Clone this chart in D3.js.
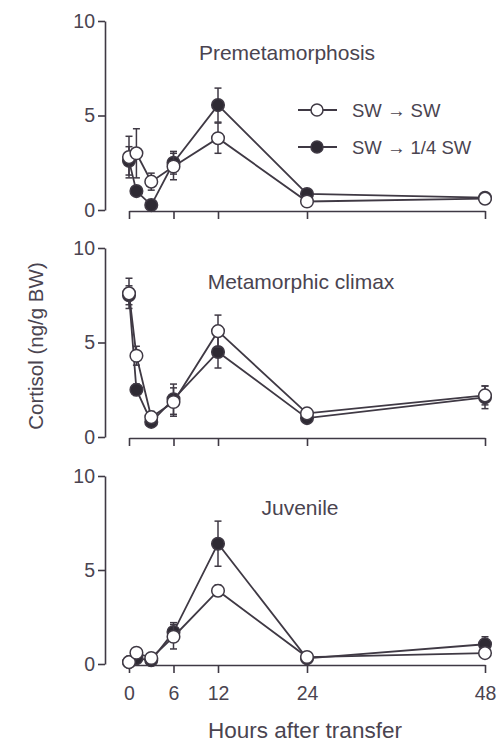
<!DOCTYPE html>
<html>
<head>
<meta charset="utf-8">
<script src="https://cdn.jsdelivr.net/npm/d3@7"></script>
<style>
  body { margin: 0; background: #fff; }
  svg { display: block; }
  text { font-family: "Liberation Sans", Arial, sans-serif; fill: #4a4450; }
</style>
</head>
<body>
<svg id="chart" width="497" height="744"></svg>
<script>
// ---- data ----
const hours = [0, 1, 3, 6, 12, 24, 48];
const xTickValues = [0, 6, 12, 24, 48];
const yTickValues = [0, 5, 10];
const panelTitles = ["Premetamorphosis", "Metamorphic climax", "Juvenile"];
const seriesNames = ["SW \u2192 SW", "SW \u2192 1/4 SW"];

// SW -> SW (open circles)
const premetSW      = [2.8, 3.0, 1.5, 2.3, 3.8, 0.45, 0.6];
const premetSWErr   = [1.1, 1.3, 0.45, 0.7, 0.8, 0.1, 0.1];
const climaxSW      = [7.6, 4.3, 1.05, 1.85, 5.6, 1.25, 2.2];
const climaxSWErr   = [0.8, 0.5, 0.3, 0.75, 0.85, 0.1, 0.5];
const juvSW         = [0.1, 0.6, 0.32, 1.45, 3.9, 0.37, 0.58];
const juvSWErr      = [0.05, 0.1, 0.1, 0.65, 0.3, 0.1, 0.2];

// SW -> 1/4 SW (filled circles)
const premetQ       = [2.6, 1.0, 0.26, 2.5, 5.55, 0.85, 0.65];
const premetQErr    = [0.75, 0.2, 0.1, 0.6, 0.9, 0.1, 0.1];
const climaxQ       = [7.5, 2.5, 0.8, 2.0, 4.5, 1.0, 2.1];
const climaxQErr    = [0.5, 0.3, 0.2, 0.8, 0.85, 0.1, 0.6];
const juvQ          = [0.1, 0.3, 0.2, 1.7, 6.4, 0.3, 1.05];
const juvQErr       = [0.05, 0.1, 0.1, 0.5, 1.2, 0.1, 0.4];

const panelsSW  = [premetSW, climaxSW, juvSW];
const panelsSWE = [premetSWErr, climaxSWErr, juvSWErr];
const panelsQ   = [premetQ, climaxQ, juvQ];
const panelsQE  = [premetQErr, climaxQErr, juvQErr];

// ---- layout ----
const ink = "#3f3944";
const svg = d3.select("#chart");
const x = d3.scaleLinear().domain([0, 48]).range([129, 485]);
const panelY = [[210, 21], [437, 248], [664, 476]];
const titlePos = [[287, 60], [301, 289], [300, 515]];
const yAxisX = 105;
const fontFam = "Liberation Sans, Arial, sans-serif";

panelsSW.forEach((sw, p) => {
  const y = d3.scaleLinear().domain([0, 10]).range(panelY[p]);
  const g = svg.append("g");

  // y axis
  const ya = g.append("g").attr("transform", `translate(${yAxisX},0)`)
    .call(d3.axisLeft(y).tickValues(yTickValues).tickSize(7).tickSizeOuter(0).tickPadding(3));
  ya.selectAll("path, line").attr("stroke", ink).attr("stroke-width", 1.6);
  ya.selectAll("text").attr("font-size", 19.5).style("fill", "#4a4450")
    .attr("font-family", fontFam);

  // x axis
  const xa = g.append("g").attr("transform", `translate(0,${panelY[p][0] + 1})`)
    .call(d3.axisBottom(x).tickValues(xTickValues).tickSize(8).tickSizeOuter(0).tickPadding(13)
      .tickFormat(p === 2 ? d3.format("d") : () => ""));
  xa.selectAll("path, line").attr("stroke", ink).attr("stroke-width", 1.6);
  xa.selectAll("text").attr("font-size", 19.5).style("fill", "#4a4450")
    .attr("font-family", fontFam);

  // title
  g.append("text").attr("x", titlePos[p][0]).attr("y", titlePos[p][1])
    .attr("text-anchor", "middle").attr("font-size", 21).text(panelTitles[p]);

  const line = d3.line().x((d, i) => x(hours[i])).y(d => y(d));
  const drawSeries = (vals, errs, filled) => {
    const s = g.append("g");
    s.append("path").datum(vals).attr("d", line)
      .attr("fill", "none").attr("stroke", ink).attr("stroke-width", 1.8);
    vals.forEach((v, i) => {
      const cx = x(hours[i]);
      const e = errs[i];
      const top = y(v + e), bot = y(Math.max(0, v - e));
      s.append("line").attr("x1", cx).attr("x2", cx).attr("y1", top).attr("y2", bot)
        .attr("stroke", ink).attr("stroke-width", 1.5);
      [top, bot].forEach(yy => s.append("line").attr("x1", cx - 3.5).attr("x2", cx + 3.5)
        .attr("y1", yy).attr("y2", yy).attr("stroke", ink).attr("stroke-width", 1.5));
    });
    s.selectAll("circle").data(vals).join("circle")
      .attr("cx", (d, i) => x(hours[i])).attr("cy", d => y(d)).attr("r", 6.3)
      .attr("fill", filled ? "#2e2a33" : "#fff")
      .attr("stroke", ink).attr("stroke-width", 1.5);
  };
  drawSeries(panelsQ[p], panelsQE[p], true);
  drawSeries(sw, panelsSWE[p], false);
});

// legend
const legY = [110, 147];
seriesNames.forEach((name, i) => {
  const lg = svg.append("g");
  lg.append("line").attr("x1", 298).attr("x2", 337).attr("y1", legY[i]).attr("y2", legY[i])
    .attr("stroke", ink).attr("stroke-width", 1.8);
  lg.append("circle").attr("cx", 317).attr("cy", legY[i]).attr("r", 6)
    .attr("fill", i === 0 ? "#fff" : "#2e2a33").attr("stroke", ink).attr("stroke-width", 1.5);
  lg.append("text").attr("x", 352).attr("y", legY[i] + 6.5).attr("font-size", 18.5).text(name);
});

// axis labels
svg.append("text").attr("x", 305).attr("y", 738).attr("text-anchor", "middle")
  .attr("font-size", 22.5).text("Hours after transfer");
svg.append("text").attr("transform", "translate(43,346) rotate(-90)")
  .attr("text-anchor", "middle").attr("font-size", 20.5).text("Cortisol (ng/g BW)");
</script>
</body>
</html>
